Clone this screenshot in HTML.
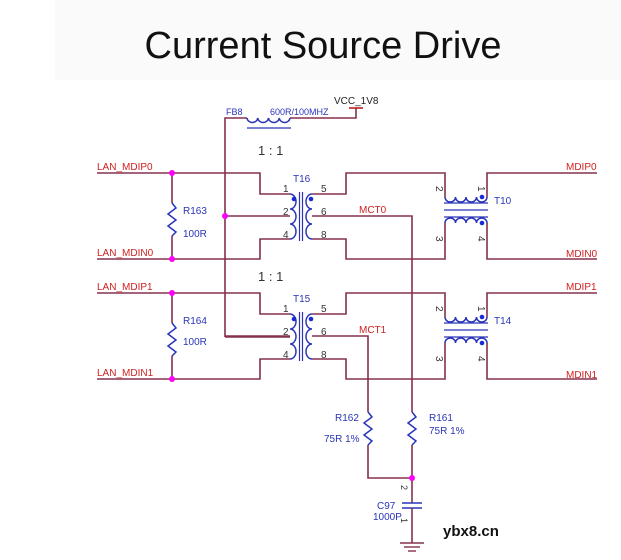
<!DOCTYPE html>
<html><head><meta charset="utf-8"><style>
body{margin:0;background:#fff}
svg{display:block}
text{font-family:"Liberation Sans",sans-serif}
</style></head><body>
<svg width="621" height="560" viewBox="0 0 621 560" xmlns="http://www.w3.org/2000/svg">
<rect x="0" y="0" width="621" height="560" fill="#fff"/>
<rect x="55" y="0" width="566" height="80" fill="#fafafa"/>
<text x="323" y="58" font-size="38" text-anchor="middle" fill="#111">Current Source Drive</text>

<defs>
<g id="ch">
 <polyline points="97,173 260,173 260,194 290,194" fill="none" stroke="#86304f" stroke-width="1.6"/>
 <polyline points="97,259 260,259 260,239 290,239" fill="none" stroke="#86304f" stroke-width="1.6"/>
 <line x1="225" y1="216" x2="290" y2="216" stroke="#86304f" stroke-width="1.6"/>
 <line x1="172" y1="173" x2="172" y2="203" stroke="#86304f" stroke-width="1.6"/>
 <line x1="172" y1="236" x2="172" y2="259" stroke="#86304f" stroke-width="1.6"/>
 <polyline points="172,203 176,208 168,214 176,220 168,226 176,232 172,236" fill="none" stroke="#2a35b8" stroke-width="1.5"/>
 <circle cx="172" cy="173" r="3" fill="#f0f"/>
 <circle cx="172" cy="259" r="3" fill="#f0f"/>
 <path d="M290,194 a6,7.5 0 0 1 0,15 a6,7.5 0 0 1 0,15 a6,7.5 0 0 1 0,15" fill="none" stroke="#2a35b8" stroke-width="1.5"/>
 <path d="M312,194 a6,7.5 0 0 0 0,15 a6,7.5 0 0 0 0,15 a6,7.5 0 0 0 0,15" fill="none" stroke="#2a35b8" stroke-width="1.5"/>
 <line x1="299.5" y1="192" x2="299.5" y2="241" stroke="#2a35b8" stroke-width="1.2"/>
 <line x1="302.5" y1="192" x2="302.5" y2="241" stroke="#2a35b8" stroke-width="1.2"/>
 <circle cx="294" cy="199" r="2.3" fill="#1a2ad8"/>
 <circle cx="311" cy="199" r="2.3" fill="#1a2ad8"/>
 <text x="283" y="192" font-size="10" fill="#333">1</text>
 <text x="283" y="215" font-size="10" fill="#333">2</text>
 <text x="283" y="238" font-size="10" fill="#333">4</text>
 <text x="321" y="192" font-size="10" fill="#333">5</text>
 <text x="321" y="215" font-size="10" fill="#333">6</text>
 <text x="321" y="238" font-size="10" fill="#333">8</text>
 <polyline points="312,194 346,194 346,173 445,173 445,197" fill="none" stroke="#86304f" stroke-width="1.6"/>
 <polyline points="312,239 346,239 346,259 445,259 445,223" fill="none" stroke="#86304f" stroke-width="1.6"/>
 <polyline points="487,197 487,173 597,173" fill="none" stroke="#86304f" stroke-width="1.6"/>
 <polyline points="487,223 487,259 597,259" fill="none" stroke="#86304f" stroke-width="1.6"/>
 <path d="M445,197 a5.25,5 0 0 0 10.5,0 a5.25,5 0 0 0 10.5,0 a5.25,5 0 0 0 10.5,0 a5.25,5 0 0 0 10.5,0" fill="none" stroke="#2a35b8" stroke-width="1.5"/>
 <path d="M445,223 a5.25,5 0 0 1 10.5,0 a5.25,5 0 0 1 10.5,0 a5.25,5 0 0 1 10.5,0 a5.25,5 0 0 1 10.5,0" fill="none" stroke="#2a35b8" stroke-width="1.5"/>
 <line x1="444" y1="203" x2="488" y2="203" stroke="#2a35b8" stroke-width="1.2"/>
 <line x1="444" y1="210" x2="488" y2="210" stroke="#2a35b8" stroke-width="1.2"/>
 <line x1="444" y1="217" x2="488" y2="217" stroke="#2a35b8" stroke-width="1.2"/>
 <circle cx="482" cy="197" r="2.3" fill="#1a2ad8"/>
 <circle cx="482" cy="223" r="2.3" fill="#1a2ad8"/>
 <text transform="translate(436,186) rotate(90)" font-size="10" fill="#333">2</text>
 <text transform="translate(478,186) rotate(90)" font-size="10" fill="#333">1</text>
 <text transform="translate(436,236) rotate(90)" font-size="10" fill="#333">3</text>
 <text transform="translate(478,236) rotate(90)" font-size="10" fill="#333">4</text>
</g>
</defs>

<use href="#ch"/>
<use href="#ch" transform="translate(0,120)"/>

<polyline points="225,337 225,118 247,118" fill="none" stroke="#86304f" stroke-width="1.6"/>
<line x1="225" y1="337" x2="290" y2="337" stroke="#86304f" stroke-width="1.6"/>
<polyline points="290,118 356,118 356,108" fill="none" stroke="#86304f" stroke-width="1.6"/>
<line x1="349" y1="108" x2="363" y2="108" stroke="#c02020" stroke-width="1.6"/>
<path d="M247,118 a5.4,5 0 0 0 10.75,0 a5.4,5 0 0 0 10.75,0 a5.4,5 0 0 0 10.75,0 a5.4,5 0 0 0 10.75,0" fill="none" stroke="#2a35b8" stroke-width="1.5"/>
<line x1="247" y1="128" x2="291" y2="128" stroke="#2a35b8" stroke-width="1.3"/>
<circle cx="225" cy="216" r="3" fill="#f0f"/>
<text x="226" y="115" font-size="9" fill="#2a35b8">FB8</text>
<text x="270" y="115" font-size="9" fill="#2a35b8">600R/100MHZ</text>
<text x="334" y="104" font-size="10" fill="#222">VCC_1V8</text>

<text x="258" y="155" font-size="13" font-family="Liberation Mono" fill="#333">1 : 1</text>
<text x="258" y="281" font-size="13" font-family="Liberation Mono" fill="#333">1 : 1</text>
<text x="293" y="182" font-size="10" fill="#2a35b8">T16</text>
<text x="293" y="302" font-size="10" fill="#2a35b8">T15</text>
<text x="494" y="204" font-size="10" fill="#2a35b8">T10</text>
<text x="494" y="324" font-size="10" fill="#2a35b8">T14</text>

<text x="97" y="170" font-size="10" fill="#d02020">LAN_MDIP0</text>
<text x="97" y="256" font-size="10" fill="#d02020">LAN_MDIN0</text>
<text x="97" y="290" font-size="10" fill="#d02020">LAN_MDIP1</text>
<text x="97" y="376" font-size="10" fill="#d02020">LAN_MDIN1</text>
<text x="566" y="170" font-size="10" fill="#d02020">MDIP0</text>
<text x="566" y="257" font-size="10" fill="#d02020">MDIN0</text>
<text x="566" y="290" font-size="10" fill="#d02020">MDIP1</text>
<text x="566" y="378" font-size="10" fill="#d02020">MDIN1</text>
<text x="359" y="213" font-size="10" fill="#d02020">MCT0</text>
<text x="359" y="333" font-size="10" fill="#d02020">MCT1</text>
<text x="183" y="214" font-size="10" fill="#2a35b8">R163</text>
<text x="183" y="237" font-size="10" fill="#2a35b8">100R</text>
<text x="183" y="324" font-size="10" fill="#2a35b8">R164</text>
<text x="183" y="345" font-size="10" fill="#2a35b8">100R</text>

<polyline points="312,216 412,216 412,412" fill="none" stroke="#86304f" stroke-width="1.6"/>
<polyline points="312,336 368,336 368,412" fill="none" stroke="#86304f" stroke-width="1.6"/>
<polyline points="368,412 372,417 364,423 372,429 364,435 372,441 368,445" fill="none" stroke="#2a35b8" stroke-width="1.5"/>
<polyline points="412,412 416,417 408,423 416,429 408,435 416,441 412,445" fill="none" stroke="#2a35b8" stroke-width="1.5"/>
<polyline points="368,445 368,478 412,478" fill="none" stroke="#86304f" stroke-width="1.6"/>
<line x1="412" y1="445" x2="412" y2="503" stroke="#86304f" stroke-width="1.6"/>
<circle cx="412" cy="478" r="3" fill="#f0f"/>
<line x1="402" y1="503" x2="422" y2="503" stroke="#2a35b8" stroke-width="1.6"/>
<line x1="402" y1="508" x2="422" y2="508" stroke="#2a35b8" stroke-width="1.6"/>
<line x1="412" y1="508" x2="412" y2="543" stroke="#86304f" stroke-width="1.6"/>
<line x1="400" y1="543" x2="424" y2="543" stroke="#86304f" stroke-width="1.4"/>
<line x1="404" y1="547" x2="420" y2="547" stroke="#86304f" stroke-width="1.4"/>
<line x1="408" y1="551" x2="416" y2="551" stroke="#86304f" stroke-width="1.4"/>
<text x="335" y="421" font-size="10" fill="#2a35b8">R162</text>
<text x="324" y="442" font-size="10" fill="#2a35b8">75R 1%</text>
<text x="429" y="421" font-size="10" fill="#2a35b8">R161</text>
<text x="429" y="434" font-size="10" fill="#2a35b8">75R 1%</text>
<text x="377" y="509" font-size="10" fill="#2a35b8">C97</text>
<text x="373" y="520" font-size="10" fill="#2a35b8">1000P</text>
<text transform="translate(401,485) rotate(90)" font-size="9" fill="#333">2</text>
<text transform="translate(401,518) rotate(90)" font-size="9" fill="#333">1</text>

<text x="443" y="536" font-size="15" font-family="Liberation Mono" font-weight="bold" fill="#111">ybx8.cn</text>
</svg>
</body></html>
